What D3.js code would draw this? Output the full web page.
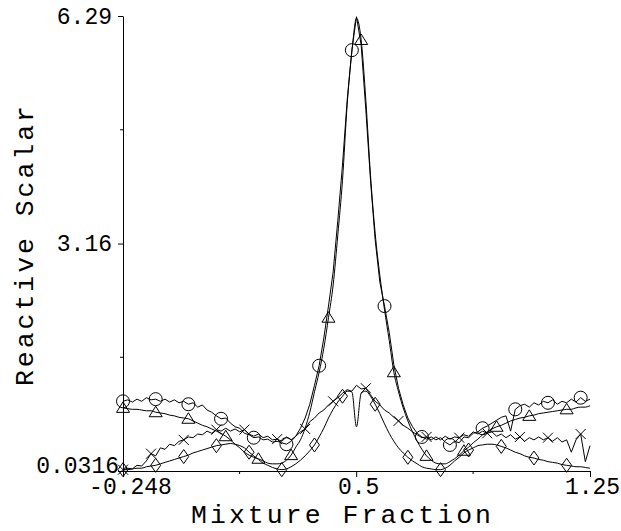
<!DOCTYPE html>
<html>
<head>
<meta charset="utf-8">
<script src="https://cdn.jsdelivr.net/npm/d3@7"></script>
<style>
body { margin: 0; background: #fff; }
svg { display: block; }
text { font-family: "Liberation Mono", "Courier New", monospace; fill: #000; }
</style>
</head>
<body>
<div id="chart"></div>
<script>
// Size of the picture
var width = 621, height = 531;

// Axis ticks and labels
var xTicks = [-0.248, 0.5, 1.25];
var xTickLabels = ["-0.248", "0.5", "1.25"];
var xMinorTicks = [0.126, 0.875];
var yTicks = [0.0316, 3.16, 6.29];
var yTickLabels = ["0.0316", "3.16", "6.29"];
var yMinorTicks = [1.596, 4.725];

// Mixture fraction samples (101 evenly spaced points over the axis range)
var xSamples = d3.range(101).map(i => -0.248 + i * 1.498 / 100);

// Reactive scalar, one value per sample
var circleValues = [
    0.99,1.01,0.98,1.02,0.99,1.04,1.01,1.02,0.99,1.02,
    0.98,1.01,0.97,0.99,0.95,0.97,0.91,0.94,0.87,0.84,
    0.79,0.75,0.76,0.69,0.64,0.62,0.55,0.53,0.49,0.50,
    0.46,0.47,0.43,0.44,0.42,0.40,0.44,0.51,0.62,0.76,
    0.95,1.21,1.48,1.86,2.30,2.77,3.48,4.24,5.13,5.82,
    6.28,5.89,5.00,4.03,3.21,2.63,2.30,1.94,1.49,1.17,
    0.94,0.76,0.64,0.55,0.50,0.47,0.50,0.46,0.49,0.43,
    0.39,0.44,0.42,0.50,0.49,0.55,0.57,0.62,0.65,0.69,
    0.73,0.77,0.79,0.58,0.88,0.93,0.95,0.91,0.97,0.94,
    0.99,0.97,1.01,0.95,0.99,0.97,1.02,0.98,1.04,0.99,
    1.02];
var triangleValues = [
    0.90,0.89,0.88,0.88,0.87,0.86,0.86,0.84,0.83,0.82,
    0.80,0.79,0.77,0.76,0.75,0.72,0.69,0.66,0.64,0.61,
    0.58,0.55,0.51,0.46,0.40,0.35,0.29,0.25,0.22,0.20,
    0.17,0.14,0.13,0.13,0.14,0.18,0.25,0.36,0.46,0.62,
    0.84,1.12,1.39,1.72,2.14,2.59,3.28,4.03,5.07,5.79,
    6.26,5.96,5.13,4.10,3.30,2.72,2.25,1.83,1.39,1.12,
    0.90,0.72,0.57,0.44,0.33,0.24,0.18,0.14,0.13,0.13,
    0.16,0.20,0.25,0.31,0.36,0.42,0.47,0.53,0.57,0.61,
    0.64,0.66,0.69,0.72,0.74,0.76,0.77,0.79,0.80,0.82,
    0.83,0.84,0.85,0.86,0.87,0.88,0.88,0.90,0.91,0.91,
    0.93];
var crossValues = [
    0.05,0.07,0.06,0.11,0.10,0.17,0.27,0.24,0.35,0.33,
    0.40,0.38,0.44,0.46,0.50,0.49,0.54,0.53,0.58,0.55,
    0.60,0.58,0.62,0.58,0.61,0.57,0.60,0.54,0.51,0.54,
    0.49,0.51,0.46,0.47,0.44,0.50,0.46,0.51,0.57,0.61,
    0.71,0.76,0.83,0.87,0.94,0.99,1.04,1.10,1.15,1.13,
    1.21,1.16,1.17,1.08,0.99,0.94,0.87,0.83,0.77,0.72,
    0.66,0.62,0.57,0.53,0.49,0.50,0.46,0.50,0.46,0.51,
    0.47,0.50,0.49,0.53,0.51,0.57,0.54,0.58,0.55,0.57,
    0.51,0.54,0.49,0.53,0.47,0.50,0.44,0.49,0.46,0.50,
    0.46,0.49,0.44,0.49,0.43,0.46,0.29,0.46,0.54,0.16,
    0.38];
var diamondValues = [
    0.05,0.05,0.06,0.07,0.07,0.09,0.10,0.11,0.13,0.15,
    0.17,0.19,0.21,0.23,0.25,0.28,0.30,0.32,0.34,0.36,
    0.38,0.39,0.40,0.41,0.40,0.38,0.35,0.29,0.24,0.19,
    0.14,0.11,0.08,0.06,0.05,0.06,0.09,0.13,0.18,0.24,
    0.31,0.39,0.50,0.62,0.76,0.88,0.98,1.06,1.13,1.12,
    0.64,1.10,1.13,1.06,0.95,0.82,0.68,0.55,0.44,0.35,
    0.28,0.22,0.17,0.13,0.09,0.07,0.06,0.05,0.05,0.07,
    0.11,0.17,0.22,0.28,0.32,0.35,0.38,0.39,0.40,0.40,
    0.39,0.37,0.35,0.32,0.29,0.27,0.24,0.22,0.21,0.19,
    0.18,0.16,0.15,0.14,0.12,0.11,0.10,0.09,0.09,0.08,
    0.07];

// Which samples carry a marker
var circleMarks = [0, 7, 14, 21, 28, 35, 42, 49, 56, 64, 70, 77, 84, 91, 98];
var triangleMarks = [0, 7, 14, 22, 29, 36, 44, 51, 58, 65, 73, 80, 87, 95];
var crossMarks = [0, 6, 13, 20, 26, 33, 39, 45, 52, 59, 65, 72, 78, 85, 91, 98];
var diamondMarks = [0, 7, 13, 20, 27, 34, 41, 47, 54, 61, 68, 74, 81, 88, 95];

// Marker shapes, centred on 0,0
var markerPaths = {
    circle: "M6.5,0A6.5,6.5 0 1,1 -6.5,0A6.5,6.5 0 1,1 6.5,0Z",
    triangle: "M0,-6L6.5,4.5L-6.5,4.5Z",
    cross: "M-5,-5L5,5M-5,5L5,-5",
    diamond: "M0,-7L5,0L0,7L-5,0Z"
};

var series = [
    {values: circleValues, marks: circleMarks, shape: "circle", curve: d3.curveLinear},
    {values: triangleValues, marks: triangleMarks, shape: "triangle", curve: d3.curveMonotoneX},
    {values: crossValues, marks: crossMarks, shape: "cross", curve: d3.curveLinear},
    {values: diamondValues, marks: diamondMarks, shape: "diamond", curve: d3.curveMonotoneX}
];

// Scales
var x = d3.scaleLinear().domain([-0.248, 1.25]).range([123, 590]);
var y = d3.scaleLinear().domain([0.0316, 6.29]).range([471, 16]);

var svg = d3.select("#chart").append("svg")
    .attr("width", width)
    .attr("height", height);

svg.append("rect")
    .attr("width", width)
    .attr("height", height)
    .attr("fill", "#fff");

// Lines and markers
series.forEach(function(s) {
    var line = d3.line()
        .x((d, i) => x(xSamples[i]))
        .y(d => y(d))
        .curve(s.curve);

    svg.append("path")
        .datum(s.values)
        .attr("fill", "none")
        .attr("stroke", "#000")
        .attr("stroke-width", 1)
        .attr("d", line);

    svg.selectAll(".mark-" + s.shape)
        .data(s.marks)
        .join("path")
        .attr("class", "mark-" + s.shape)
        .attr("transform", i => "translate(" + x(xSamples[i]) + "," + y(s.values[i]) + ")")
        .attr("d", markerPaths[s.shape])
        .attr("fill", "none")
        .attr("stroke", "#000")
        .attr("stroke-width", 1);
});

// X axis
var xAxis = svg.append("g")
    .attr("transform", "translate(0," + y(0.0316) + ")")
    .call(d3.axisBottom(x)
        .tickValues(xTicks)
        .tickFormat((d, i) => xTickLabels[i])
        .tickSize(6)
        .tickSizeOuter(0)
        .tickPadding(1));

xAxis.selectAll("text")
    .attr("font-size", 23)
    .attr("font-family", "Liberation Mono, Courier New, monospace")
    .attr("dx", (d, i) => i === 0 ? 7 : 2);

xAxis.selectAll(".minor")
    .data(xMinorTicks)
    .join("line")
    .attr("class", "minor")
    .attr("x1", d => x(d))
    .attr("x2", d => x(d))
    .attr("y1", 0)
    .attr("y2", 3)
    .attr("stroke", "#000");

// Y axis
var yAxis = svg.append("g")
    .attr("transform", "translate(" + x(-0.248) + ",0)")
    .call(d3.axisLeft(y)
        .tickValues(yTicks)
        .tickFormat((d, i) => yTickLabels[i])
        .tickSize(5)
        .tickSizeOuter(0)
        .tickPadding(6));

yAxis.selectAll("text")
    .attr("font-size", 23)
    .attr("font-family", "Liberation Mono, Courier New, monospace")
    .attr("dx", (d, i) => i === 0 ? 7 : 0)
    .attr("dy", (d, i) => i === 0 ? "0.08em" : "0.32em");

yAxis.selectAll(".minor")
    .data(yMinorTicks)
    .join("line")
    .attr("class", "minor")
    .attr("x1", -3)
    .attr("x2", 0)
    .attr("y1", d => y(d))
    .attr("y2", d => y(d))
    .attr("stroke", "#000");

svg.selectAll(".domain").attr("stroke", "#000");

// Axis titles
svg.append("text")
    .attr("x", 341)
    .attr("y", 522.8)
    .attr("text-anchor", "middle")
    .attr("font-size", 26.5)
    .attr("textLength", 300)
    .text("Mixture Fraction");

svg.append("text")
    .attr("transform", "translate(33,246) rotate(-90)")
    .attr("text-anchor", "middle")
    .attr("font-size", 26.5)
    .attr("textLength", 280)
    .text("Reactive Scalar");
</script>
</body>
</html>
